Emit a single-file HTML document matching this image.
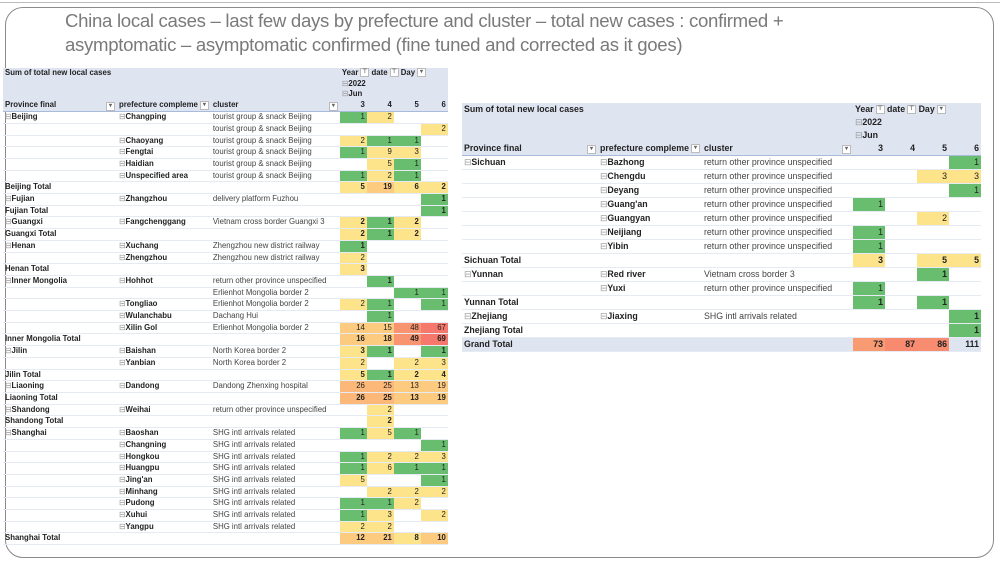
<!DOCTYPE html>
<html><head><meta charset="utf-8"><style>
body{margin:0;width:1000px;height:563px;background:#fff;position:relative;overflow:hidden;font-family:"Liberation Sans",sans-serif}
.top{position:absolute;left:0;top:2px;width:1000px;height:1px;background:#bbb}
.frame{position:absolute;left:5px;top:7px;width:987px;height:549px;border:1px solid #8a8a8a;border-radius:18px}
.title{position:absolute;left:65px;top:9px;font-size:18.6px;line-height:24px;color:#7a7a7a;letter-spacing:-0.3px}
table{position:absolute;border-collapse:collapse;table-layout:fixed;color:#222}
td{padding:0 2px;white-space:nowrap;overflow:hidden;border-bottom:1px solid #e6eaf2}
.L{left:3px;top:68px;font-size:7.8px}
.L td{height:10.7px;line-height:10.7px}
.R{left:462px;top:103px;font-size:8.8px}
.R td{height:13px;line-height:13px}
.h td{background:#dfe4f1;border-bottom:none;font-weight:bold}
.h.last td{border-bottom:1px solid #a9bbdb}
.n{text-align:right}
b{font-weight:bold}
.c{color:#444}
.t td{font-weight:bold;border-top:1px solid #a9bbdb}
.gt td{background:#dfe4f1;font-weight:bold}
.g{background:#68bd6e}.y{background:#fde48a}.o{background:#fccb80}.o2{background:#fbb879}.r{background:#f8946f}.r2{background:#f6786c}.rr{background:#f3626a}
.dd{display:inline-block;width:7px;height:7px;border:1px solid #bbb;background:#fff;font-size:6px;line-height:6px;text-align:center;color:#666;vertical-align:middle;margin-left:2px}
.m{color:#999;font-weight:normal}
</style></head><body>
<div class="top"></div>
<div class="frame"></div>
<div class="title">China local cases – last few days by prefecture and cluster – total new cases : confirmed +<br>asymptomatic – asymptomatic confirmed (fine tuned and corrected as it goes)</div>

<table class="L">
<colgroup><col style="width:114px"><col style="width:89px"><col style="width:129px"><col style="width:27px"><col style="width:27px"><col style="width:27px"><col style="width:27px"></colgroup>
<tr class="h"><td colspan="3">Sum of total new local cases</td><td colspan="4">Year<span class="dd">⊤</span> date<span class="dd">⊤</span> Day<span class="dd">▾</span></td></tr>
<tr class="h"><td colspan="3"></td><td colspan="4"><span class="m">⊟</span>2022</td></tr>
<tr class="h"><td colspan="3"></td><td colspan="4"><span class="m">⊟</span>Jun</td></tr>
<tr class="h last"><td>Province final<span class="dd" style="float:right;margin-top:2px">▾</span></td><td>prefecture compleme<span class="dd">▾</span></td><td>cluster<span class="dd" style="float:right;margin-top:2px">▾</span></td><td class="n">3</td><td class="n">4</td><td class="n">5</td><td class="n">6</td></tr>
<tr><td><b><span class="m">⊟</span>Beijing</b></td><td><b><span class="m">⊟</span>Changping</b></td><td class="c">tourist group &amp; snack Beijing</td><td class="n g">1</td><td class="n y">2</td><td></td><td></td></tr>
<tr><td></td><td></td><td class="c">tourist group &amp; snack Beijing</td><td></td><td></td><td></td><td class="n y">2</td></tr>
<tr><td></td><td><b><span class="m">⊟</span>Chaoyang</b></td><td class="c">tourist group &amp; snack Beijing</td><td class="n y">2</td><td class="n g">1</td><td class="n g">1</td><td></td></tr>
<tr><td></td><td><b><span class="m">⊟</span>Fengtai</b></td><td class="c">tourist group &amp; snack Beijing</td><td class="n g">1</td><td class="n y">9</td><td class="n y">3</td><td></td></tr>
<tr><td></td><td><b><span class="m">⊟</span>Haidian</b></td><td class="c">tourist group &amp; snack Beijing</td><td></td><td class="n y">5</td><td class="n g">1</td><td></td></tr>
<tr><td></td><td><b><span class="m">⊟</span>Unspecified area</b></td><td class="c">tourist group &amp; snack Beijing</td><td class="n g">1</td><td class="n y">2</td><td class="n g">1</td><td></td></tr>
<tr class="t"><td>Beijing Total</td><td></td><td></td><td class="n y">5</td><td class="n o">19</td><td class="n y">6</td><td class="n y">2</td></tr>
<tr class="t"><td><span class="m">⊟</span>Fujian</td><td><span class="m">⊟</span>Zhangzhou</td><td class="c" style="font-weight:normal">delivery platform Fuzhou</td><td></td><td></td><td></td><td class="n g">1</td></tr>
<tr><td><b>Fujian Total</b></td><td></td><td></td><td></td><td></td><td></td><td class="n g"><b>1</b></td></tr>
<tr class="t"><td><span class="m">⊟</span>Guangxi</td><td><span class="m">⊟</span>Fangchenggang</td><td class="c" style="font-weight:normal">Vietnam cross border Guangxi 3</td><td class="n y">2</td><td class="n g">1</td><td class="n y">2</td><td></td></tr>
<tr><td><b>Guangxi Total</b></td><td></td><td></td><td class="n y"><b>2</b></td><td class="n g"><b>1</b></td><td class="n y"><b>2</b></td><td></td></tr>
<tr class="t"><td><span class="m">⊟</span>Henan</td><td><span class="m">⊟</span>Xuchang</td><td class="c" style="font-weight:normal">Zhengzhou new district railway</td><td class="n g">1</td><td></td><td></td><td></td></tr>
<tr><td></td><td><b><span class="m">⊟</span>Zhengzhou</b></td><td class="c">Zhengzhou new district railway</td><td class="n y">2</td><td></td><td></td><td></td></tr>
<tr class="t"><td>Henan Total</td><td></td><td></td><td class="n y">3</td><td></td><td></td><td></td></tr>
<tr class="t"><td><span class="m">⊟</span>Inner Mongolia</td><td><span class="m">⊟</span>Hohhot</td><td class="c" style="font-weight:normal">return other province unspecified</td><td></td><td class="n g">1</td><td></td><td></td></tr>
<tr><td></td><td></td><td class="c">Erlienhot Mongolia border 2</td><td></td><td></td><td class="n g">1</td><td class="n g">1</td></tr>
<tr><td></td><td><b><span class="m">⊟</span>Tongliao</b></td><td class="c">Erlienhot Mongolia border 2</td><td class="n y">2</td><td class="n g">1</td><td></td><td class="n g">1</td></tr>
<tr><td></td><td><b><span class="m">⊟</span>Wulanchabu</b></td><td class="c">Dachang Hui</td><td></td><td class="n g">1</td><td></td><td></td></tr>
<tr><td></td><td><b><span class="m">⊟</span>Xilin Gol</b></td><td class="c">Erlienhot Mongolia border 2</td><td class="n o">14</td><td class="n o">15</td><td class="n r">48</td><td class="n r2">67</td></tr>
<tr class="t"><td>Inner Mongolia Total</td><td></td><td></td><td class="n o">16</td><td class="n o">18</td><td class="n r">49</td><td class="n r2">69</td></tr>
<tr class="t"><td><span class="m">⊟</span>Jilin</td><td><span class="m">⊟</span>Baishan</td><td class="c" style="font-weight:normal">North Korea border 2</td><td class="n y">3</td><td class="n g">1</td><td></td><td class="n g">1</td></tr>
<tr><td></td><td><b><span class="m">⊟</span>Yanbian</b></td><td class="c">North Korea border 2</td><td class="n y">2</td><td></td><td class="n y">2</td><td class="n y">3</td></tr>
<tr class="t"><td>Jilin Total</td><td></td><td></td><td class="n y">5</td><td class="n g">1</td><td class="n y">2</td><td class="n y">4</td></tr>
<tr class="t"><td><span class="m">⊟</span>Liaoning</td><td><span class="m">⊟</span>Dandong</td><td class="c" style="font-weight:normal">Dandong Zhenxing hospital</td><td class="n o2" style="font-weight:normal">26</td><td class="n o2" style="font-weight:normal">25</td><td class="n o" style="font-weight:normal">13</td><td class="n o" style="font-weight:normal">19</td></tr>
<tr><td><b>Liaoning Total</b></td><td></td><td></td><td class="n o2"><b>26</b></td><td class="n o2"><b>25</b></td><td class="n o"><b>13</b></td><td class="n o"><b>19</b></td></tr>
<tr class="t"><td><span class="m">⊟</span>Shandong</td><td><span class="m">⊟</span>Weihai</td><td class="c" style="font-weight:normal">return other province unspecified</td><td></td><td class="n y" style="font-weight:normal">2</td><td></td><td></td></tr>
<tr><td><b>Shandong Total</b></td><td></td><td></td><td></td><td class="n y"><b>2</b></td><td></td><td></td></tr>
<tr class="t"><td><span class="m">⊟</span>Shanghai</td><td><span class="m">⊟</span>Baoshan</td><td class="c" style="font-weight:normal">SHG intl arrivals related</td><td class="n g" style="font-weight:normal">1</td><td class="n y" style="font-weight:normal">5</td><td class="n g" style="font-weight:normal">1</td><td></td></tr>
<tr><td></td><td><b><span class="m">⊟</span>Changning</b></td><td class="c">SHG intl arrivals related</td><td></td><td></td><td></td><td class="n g">1</td></tr>
<tr><td></td><td><b><span class="m">⊟</span>Hongkou</b></td><td class="c">SHG intl arrivals related</td><td class="n g">1</td><td class="n y">2</td><td class="n y">2</td><td class="n y">3</td></tr>
<tr><td></td><td><b><span class="m">⊟</span>Huangpu</b></td><td class="c">SHG intl arrivals related</td><td class="n g">1</td><td class="n y">6</td><td class="n g">1</td><td class="n g">1</td></tr>
<tr><td></td><td><b><span class="m">⊟</span>Jing'an</b></td><td class="c">SHG intl arrivals related</td><td class="n y">5</td><td></td><td></td><td class="n g">1</td></tr>
<tr><td></td><td><b><span class="m">⊟</span>Minhang</b></td><td class="c">SHG intl arrivals related</td><td></td><td class="n y">2</td><td class="n y">2</td><td class="n y">2</td></tr>
<tr><td></td><td><b><span class="m">⊟</span>Pudong</b></td><td class="c">SHG intl arrivals related</td><td class="n g">1</td><td class="n g">1</td><td class="n y">2</td><td></td></tr>
<tr><td></td><td><b><span class="m">⊟</span>Xuhui</b></td><td class="c">SHG intl arrivals related</td><td class="n g">1</td><td class="n y">3</td><td></td><td class="n y">2</td></tr>
<tr><td></td><td><b><span class="m">⊟</span>Yangpu</b></td><td class="c">SHG intl arrivals related</td><td class="n y">2</td><td class="n y">2</td><td></td><td></td></tr>
<tr class="t"><td>Shanghai Total</td><td></td><td></td><td class="n o">12</td><td class="n o">21</td><td class="n y">8</td><td class="n o">10</td></tr>
</table>

<table class="R">
<colgroup><col style="width:136px"><col style="width:103px"><col style="width:151px"><col style="width:32px"><col style="width:32px"><col style="width:32px"><col style="width:32px"></colgroup>
<tr class="h"><td colspan="3">Sum of total new local cases</td><td colspan="4">Year<span class="dd">⊤</span> date<span class="dd">⊤</span> Day<span class="dd">▾</span></td></tr>
<tr class="h"><td colspan="3"></td><td colspan="4"><span class="m">⊟</span>2022</td></tr>
<tr class="h"><td colspan="3"></td><td colspan="4"><span class="m">⊟</span>Jun</td></tr>
<tr class="h last"><td>Province final<span class="dd" style="float:right;margin-top:3px">▾</span></td><td>prefecture compleme<span class="dd">▾</span></td><td>cluster<span class="dd" style="float:right;margin-top:3px">▾</span></td><td class="n">3</td><td class="n">4</td><td class="n">5</td><td class="n">6</td></tr>
<tr><td><b><span class="m">⊟</span>Sichuan</b></td><td><b><span class="m">⊟</span>Bazhong</b></td><td class="c">return other province unspecified</td><td></td><td></td><td></td><td class="n g">1</td></tr>
<tr><td></td><td><b><span class="m">⊟</span>Chengdu</b></td><td class="c">return other province unspecified</td><td></td><td></td><td class="n y">3</td><td class="n y">3</td></tr>
<tr><td></td><td><b><span class="m">⊟</span>Deyang</b></td><td class="c">return other province unspecified</td><td></td><td></td><td></td><td class="n g">1</td></tr>
<tr><td></td><td><b><span class="m">⊟</span>Guang'an</b></td><td class="c">return other province unspecified</td><td class="n g">1</td><td></td><td></td><td></td></tr>
<tr><td></td><td><b><span class="m">⊟</span>Guangyan</b></td><td class="c">return other province unspecified</td><td></td><td></td><td class="n y">2</td><td></td></tr>
<tr><td></td><td><b><span class="m">⊟</span>Neijiang</b></td><td class="c">return other province unspecified</td><td class="n g">1</td><td></td><td></td><td></td></tr>
<tr><td></td><td><b><span class="m">⊟</span>Yibin</b></td><td class="c">return other province unspecified</td><td class="n g">1</td><td></td><td></td><td></td></tr>
<tr class="t"><td>Sichuan Total</td><td></td><td></td><td class="n y">3</td><td></td><td class="n y">5</td><td class="n y">5</td></tr>
<tr class="t"><td><span class="m">⊟</span>Yunnan</td><td><span class="m">⊟</span>Red river</td><td class="c" style="font-weight:normal">Vietnam cross border 3</td><td></td><td></td><td class="n g">1</td><td></td></tr>
<tr><td></td><td><b><span class="m">⊟</span>Yuxi</b></td><td class="c">return other province unspecified</td><td class="n g">1</td><td></td><td></td><td></td></tr>
<tr class="t"><td>Yunnan Total</td><td></td><td></td><td class="n g">1</td><td></td><td class="n g">1</td><td></td></tr>
<tr class="t"><td><span class="m">⊟</span>Zhejiang</td><td><span class="m">⊟</span>Jiaxing</td><td class="c" style="font-weight:normal">SHG intl arrivals related</td><td></td><td></td><td></td><td class="n g">1</td></tr>
<tr><td><b>Zhejiang Total</b></td><td></td><td></td><td></td><td></td><td></td><td class="n g"><b>1</b></td></tr>
<tr class="gt t"><td>Grand Total</td><td></td><td></td><td class="n r" style="background:#f89a72">73</td><td class="n r" style="background:#f78a6f">87</td><td class="n r" style="background:#f78c70">86</td><td class="n rr">111</td></tr>
</table>
</body></html>
